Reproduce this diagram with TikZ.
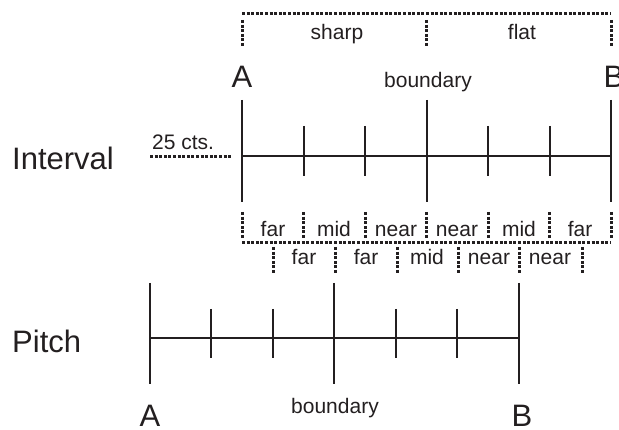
\documentclass[tikz,border=0pt]{standalone}
\usepackage{fontspec}
\setmainfont{Liberation Sans}
\usetikzlibrary{positioning}

\definecolor{ink}{HTML}{231F20}

\tikzset{
  bigtext/.style={font=\fontsize{31}{37}\selectfont, text=ink, inner sep=0pt, anchor=base},
  smalltext/.style={font=\fontsize{21}{25}\selectfont, text=ink, inner sep=0pt, anchor=base},
  axisline/.style={draw=ink, line width=1.2pt},
  majortick/.style={draw=ink, line width=2.8pt},
  minortick/.style={draw=ink, line width=2.6pt},
  dotline/.style={draw=ink, line width=3pt, dash pattern=on 3pt off 1.6pt}
}

\begin{document}
\begin{tikzpicture}[x=1pt, y=-1pt]

    \useasboundingbox (0,0) rectangle (619,430);

    % row names
    \node[bigtext, anchor=base west] (interval) at (12,170) {Interval};
    \node[bigtext, anchor=base west] (pitch) at (12,353) {Pitch};

    % interval axis
    \node[bigtext] (iA) at (242,88) {A};
    \node[smalltext] (ibound) at (428,88) {boundary};
    \node[bigtext] (iB) at (614,88) {B};

    \coordinate (i0) at (242,156);
    \coordinate (i6) at (611,156);
    \draw[axisline] (i0) -- (i6);

    \draw[majortick] (242,100) -- (242,202);
    \draw[minortick] (304,126) -- (304,176);
    \draw[minortick] (365,126) -- (365,176);
    \draw[majortick] (427,100) -- (427,202);
    \draw[minortick] (488,126) -- (488,176);
    \draw[minortick] (550,126) -- (550,176);
    \draw[majortick] (611,100) -- (611,202);

    % 25 cents
    \node[smalltext, anchor=base west] (cents) at (152,150) {25 cts.};
    \coordinate (c0) at (150,157);
    \coordinate (c1) at (231,157);
    \draw[dotline] (c0) -- (c1);

    % sharp / flat bracket
    \coordinate (s0) at (242,14);
    \coordinate (s1) at (611,14);
    \draw[dotline] (s0) -- (s1);
    \draw[dotline] (242,20) -- (242,46);
    \draw[dotline] (426,20) -- (426,46);
    \draw[dotline] (611,20) -- (611,46);
    \node[smalltext] (sharp) at (337,40) {sharp};
    \node[smalltext] (flat) at (522,40) {flat};

    % upper row of regions
    \coordinate (u0) at (242,243);
    \coordinate (u6) at (611,243);
    \draw[dotline] (u0) -- (u6);
    \draw[dotline] (242,212) -- (242,239);
    \draw[dotline] (303,212) -- (303,239);
    \draw[dotline] (365,212) -- (365,239);
    \draw[dotline] (426,212) -- (426,239);
    \draw[dotline] (488,212) -- (488,239);
    \draw[dotline] (549,212) -- (549,239);
    \draw[dotline] (611,212) -- (611,239);
    \node[smalltext] (u1) at (273,237) {far};
    \node[smalltext] (u2) at (334,237) {mid};
    \node[smalltext] (u3) at (396,237) {near};
    \node[smalltext] (u4) at (457,237) {near};
    \node[smalltext] (u5) at (519,237) {mid};
    \node[smalltext] (u6t) at (580,237) {far};

    % lower row of regions
    \draw[dotline] (273,247) -- (273,273);
    \draw[dotline] (335,247) -- (335,273);
    \draw[dotline] (397,247) -- (397,273);
    \draw[dotline] (458,247) -- (458,273);
    \draw[dotline] (519,247) -- (519,273);
    \draw[dotline] (582,247) -- (582,273);
    \node[smalltext] (l1) at (304,265) {far};
    \node[smalltext] (l2) at (366,265) {far};
    \node[smalltext] (l3) at (427,265) {mid};
    \node[smalltext] (l4) at (489,265) {near};
    \node[smalltext] (l5) at (550,265) {near};

    % pitch axis
    \coordinate (p0) at (150,338);
    \coordinate (p6) at (519,338);
    \draw[axisline] (p0) -- (p6);

    \draw[majortick] (150,283) -- (150,384);
    \draw[minortick] (211,309) -- (211,358);
    \draw[minortick] (273,309) -- (273,358);
    \draw[majortick] (334,283) -- (334,384);
    \draw[minortick] (396,309) -- (396,358);
    \draw[minortick] (457,309) -- (457,358);
    \draw[majortick] (519,283) -- (519,384);

    \node[bigtext] (pA) at (150,427) {A};
    \node[smalltext] (pbound) at (335,414) {boundary};
    \node[bigtext] (pB) at (522,427) {B};

  \end{tikzpicture}
\end{document}
